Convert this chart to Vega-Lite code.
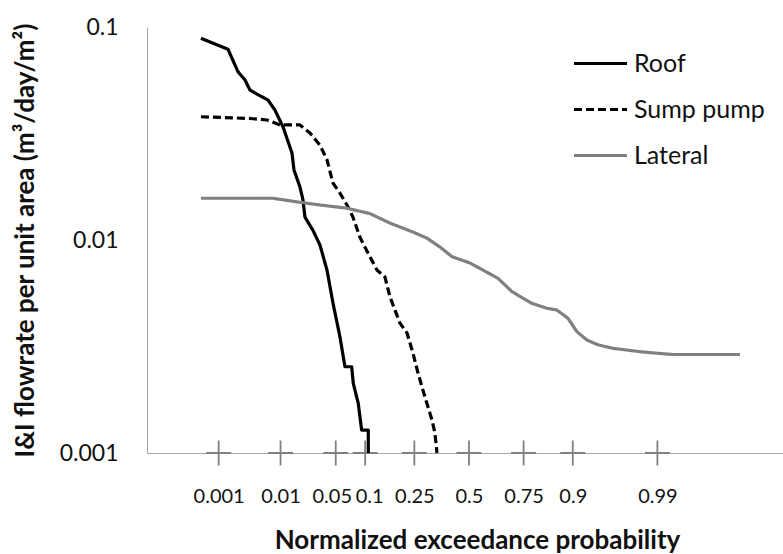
{
  "$schema": "https://vega.github.io/schema/vega-lite/v6.json",
  "width": 636,
  "height": 426,
  "autosize": {"type": "none"},
  "padding": {"left": 147, "top": 27, "right": 0, "bottom": 101},
  "background": "white",
  "config": {
    "view": {"stroke": null},
    "font": "Lato",
    "legend": {
      "orient": "none",
      "legendX": 425,
      "legendY": 8,
      "symbolType": "stroke",
      "symbolSize": 2809,
      "labelFontSize": 25,
      "labelColor": "#111111",
      "labelOffset": 5,
      "rowPadding": 4
    }
  },
  "datasets": {
    "curves": [
      {"series": "Roof", "i": 1, "z": -3.309, "q": 0.0885},
      {"series": "Roof", "i": 2, "z": -2.975, "q": 0.0786},
      {"series": "Roof", "i": 3, "z": -2.852, "q": 0.0617},
      {"series": "Roof", "i": 4, "z": -2.765, "q": 0.0564},
      {"series": "Roof", "i": 5, "z": -2.704, "q": 0.0506},
      {"series": "Roof", "i": 6, "z": -2.617, "q": 0.0484},
      {"series": "Roof", "i": 7, "z": -2.481, "q": 0.0454},
      {"series": "Roof", "i": 8, "z": -2.395, "q": 0.0407},
      {"series": "Roof", "i": 9, "z": -2.296, "q": 0.034},
      {"series": "Roof", "i": 10, "z": -2.185, "q": 0.0256},
      {"series": "Roof", "i": 11, "z": -2.16, "q": 0.0213},
      {"series": "Roof", "i": 12, "z": -2.086, "q": 0.0177},
      {"series": "Roof", "i": 13, "z": -2.049, "q": 0.0154},
      {"series": "Roof", "i": 14, "z": -2.025, "q": 0.0128},
      {"series": "Roof", "i": 15, "z": -1.926, "q": 0.0111},
      {"series": "Roof", "i": 16, "z": -1.84, "q": 0.00948},
      {"series": "Roof", "i": 17, "z": -1.753, "q": 0.00723},
      {"series": "Roof", "i": 18, "z": -1.679, "q": 0.00506},
      {"series": "Roof", "i": 19, "z": -1.593, "q": 0.00351},
      {"series": "Roof", "i": 20, "z": -1.531, "q": 0.00254},
      {"series": "Roof", "i": 21, "z": -1.448, "q": 0.00254},
      {"series": "Roof", "i": 22, "z": -1.428, "q": 0.00212},
      {"series": "Roof", "i": 23, "z": -1.367, "q": 0.00171},
      {"series": "Roof", "i": 24, "z": -1.325, "q": 0.00128},
      {"series": "Roof", "i": 25, "z": -1.243, "q": 0.00128},
      {"series": "Roof", "i": 26, "z": -1.243, "q": 0.001},
      {"series": "Sump pump", "i": 1, "z": -3.309, "q": 0.0379},
      {"series": "Sump pump", "i": 2, "z": -2.704, "q": 0.0372},
      {"series": "Sump pump", "i": 3, "z": -2.494, "q": 0.0366},
      {"series": "Sump pump", "i": 4, "z": -2.333, "q": 0.0347},
      {"series": "Sump pump", "i": 5, "z": -2.086, "q": 0.0347},
      {"series": "Sump pump", "i": 6, "z": -1.963, "q": 0.0318},
      {"series": "Sump pump", "i": 7, "z": -1.84, "q": 0.0279},
      {"series": "Sump pump", "i": 8, "z": -1.753, "q": 0.0238},
      {"series": "Sump pump", "i": 9, "z": -1.679, "q": 0.0185},
      {"series": "Sump pump", "i": 10, "z": -1.593, "q": 0.0166},
      {"series": "Sump pump", "i": 11, "z": -1.506, "q": 0.0146},
      {"series": "Sump pump", "i": 12, "z": -1.432, "q": 0.0128},
      {"series": "Sump pump", "i": 13, "z": -1.346, "q": 0.0103},
      {"series": "Sump pump", "i": 14, "z": -1.247, "q": 0.00869},
      {"series": "Sump pump", "i": 15, "z": -1.136, "q": 0.00723},
      {"series": "Sump pump", "i": 16, "z": -1.037, "q": 0.0067},
      {"series": "Sump pump", "i": 17, "z": -0.975, "q": 0.0054},
      {"series": "Sump pump", "i": 18, "z": -0.852, "q": 0.00407},
      {"series": "Sump pump", "i": 19, "z": -0.765, "q": 0.00366},
      {"series": "Sump pump", "i": 20, "z": -0.691, "q": 0.00294},
      {"series": "Sump pump", "i": 21, "z": -0.63, "q": 0.00238},
      {"series": "Sump pump", "i": 22, "z": -0.543, "q": 0.00183},
      {"series": "Sump pump", "i": 23, "z": -0.457, "q": 0.00143},
      {"series": "Sump pump", "i": 24, "z": -0.42, "q": 0.00124},
      {"series": "Sump pump", "i": 25, "z": -0.395, "q": 0.001},
      {"series": "Lateral", "i": 1, "z": -3.309, "q": 0.0157},
      {"series": "Lateral", "i": 2, "z": -2.42, "q": 0.0157},
      {"series": "Lateral", "i": 3, "z": -2.123, "q": 0.0151},
      {"series": "Lateral", "i": 4, "z": -1.84, "q": 0.0146},
      {"series": "Lateral", "i": 5, "z": -1.506, "q": 0.0141},
      {"series": "Lateral", "i": 6, "z": -1.222, "q": 0.0133},
      {"series": "Lateral", "i": 7, "z": -0.975, "q": 0.012},
      {"series": "Lateral", "i": 8, "z": -0.691, "q": 0.0109},
      {"series": "Lateral", "i": 9, "z": -0.519, "q": 0.0102},
      {"series": "Lateral", "i": 10, "z": -0.358, "q": 0.00927},
      {"series": "Lateral", "i": 11, "z": -0.21, "q": 0.00835},
      {"series": "Lateral", "i": 12, "z": 0.012, "q": 0.0078},
      {"series": "Lateral", "i": 13, "z": 0.358, "q": 0.00661},
      {"series": "Lateral", "i": 14, "z": 0.531, "q": 0.00572},
      {"series": "Lateral", "i": 15, "z": 0.778, "q": 0.00504},
      {"series": "Lateral", "i": 16, "z": 0.963, "q": 0.00478},
      {"series": "Lateral", "i": 17, "z": 1.086, "q": 0.00469},
      {"series": "Lateral", "i": 18, "z": 1.222, "q": 0.00429},
      {"series": "Lateral", "i": 19, "z": 1.333, "q": 0.00371},
      {"series": "Lateral", "i": 20, "z": 1.457, "q": 0.00339},
      {"series": "Lateral", "i": 21, "z": 1.593, "q": 0.00322},
      {"series": "Lateral", "i": 22, "z": 1.778, "q": 0.0031},
      {"series": "Lateral", "i": 23, "z": 2.111, "q": 0.00299},
      {"series": "Lateral", "i": 24, "z": 2.321, "q": 0.00294},
      {"series": "Lateral", "i": 25, "z": 2.519, "q": 0.0029},
      {"series": "Lateral", "i": 26, "z": 3.346, "q": 0.0029}
    ],
    "marks": [
      {"z": -3.0902, "p": "0.001"},
      {"z": -2.3263, "p": "0.01"},
      {"z": -1.6449, "p": "0.05"},
      {"z": -1.2816, "p": "0.1"},
      {"z": -0.6745, "p": "0.25"},
      {"z": 0, "p": "0.5"},
      {"z": 0.6745, "p": "0.75"},
      {"z": 1.2816, "p": "0.9"},
      {"z": 2.3263, "p": "0.99"}
    ]
  },
  "layer": [
    {
      "mark": {"type": "rule", "color": "#a6a6a6", "strokeWidth": 1},
      "encoding": {"y": {"datum": 0.1, "type": "quantitative"}}
    },
    {
      "mark": {"type": "rule", "color": "#999999", "strokeWidth": 1, "strokeDash": [4, 3]},
      "encoding": {"y": {"datum": 0.01, "type": "quantitative"}}
    },
    {
      "mark": {"type": "rule", "color": "#a6a6a6", "strokeWidth": 1.2},
      "encoding": {"x": {"datum": 0, "type": "quantitative"}}
    },
    {
      "data": {"name": "marks"},
      "mark": {"type": "point", "shape": "M-1,0H1M0,-1V1", "size": 625, "filled": false, "stroke": "#808080", "strokeWidth": 1.8, "opacity": 1},
      "encoding": {
        "x": {"field": "z", "type": "quantitative", "title": "Normalized exceedance probability"},
        "y": {"datum": 0.001, "type": "quantitative"}
      }
    },
    {
      "data": {"name": "curves"},
      "mark": {"type": "line", "strokeCap": "butt", "strokeJoin": "round"},
      "encoding": {
        "x": {
          "field": "z",
          "type": "quantitative",
          "scale": {"domain": [-3.975, 3.877], "nice": false, "zero": false},
          "title": "Normalized exceedance probability",
          "axis": {
            "values": [-3.0902, -2.3263, -1.6449, -1.2816, -0.6745, 0, 0.6745, 1.2816, 2.3263],
            "labelExpr": "datum.value < -3 ? '0.001' : datum.value < -2 ? '0.01' : datum.value < -1.5 ? '0.05' : datum.value < -1 ? '0.1' : datum.value < -0.5 ? '0.25' : datum.value < 0.5 ? '0.5' : datum.value < 1 ? '0.75' : datum.value < 2 ? '0.9' : '0.99'",
            "labelOverlap": false,
            "labelFlush": false,
            "labelBound": false,
            "labelOffset": {
              "condition": [
                {"test": "datum.value > -1.7 && datum.value < -1.6", "value": -4},
                {"test": "datum.value > -1.3 && datum.value < -1.2", "value": 4}
              ],
              "value": 0
            },
            "grid": false,
            "ticks": false,
            "domainColor": "#a6a6a6",
            "domainWidth": 1,
            "labelFontSize": 20,
            "labelColor": "#111111",
            "labelPadding": 33,
            "titleFontSize": 26,
            "titleFontWeight": "bold",
            "titleColor": "#111111",
            "titleX": 330,
            "titleY": 95,
            "titleAlign": "center",
            "titleBaseline": "alphabetic"
          }
        },
        "y": {
          "field": "q",
          "type": "quantitative",
          "scale": {"type": "log", "domain": [0.001, 0.1], "nice": false},
          "title": "I&I flowrate per unit area (m³/day/m²)",
          "axis": {
            "values": [0.001, 0.01, 0.1],
            "labelExpr": "format(datum.value, '~g')",
            "grid": false,
            "ticks": false,
            "domainColor": "#a6a6a6",
            "domainWidth": 1,
            "labelFontSize": 23,
            "labelColor": "#111111",
            "labelPadding": 29,
            "titleFontSize": 26,
            "titleFontWeight": "bold",
            "titleColor": "#111111",
            "titleX": -114,
            "titleY": 213,
            "titleAlign": "center",
            "titleBaseline": "alphabetic"
          }
        },
        "order": {"field": "i", "type": "quantitative"},
        "color": {
          "field": "series",
          "type": "nominal",
          "scale": {"domain": ["Roof", "Sump pump", "Lateral"], "range": ["#000000", "#000000", "#808080"]},
          "legend": {"title": null}
        },
        "strokeDash": {
          "field": "series",
          "type": "nominal",
          "scale": {"domain": ["Roof", "Sump pump", "Lateral"], "range": [[1, 0], [8, 4], [1, 0]]},
          "legend": {"title": null}
        },
        "strokeWidth": {
          "field": "series",
          "type": "nominal",
          "scale": {"domain": ["Roof", "Sump pump", "Lateral"], "range": [3.2, 3.2, 4]},
          "legend": {"title": null}
        }
      }
    }
  ]
}
